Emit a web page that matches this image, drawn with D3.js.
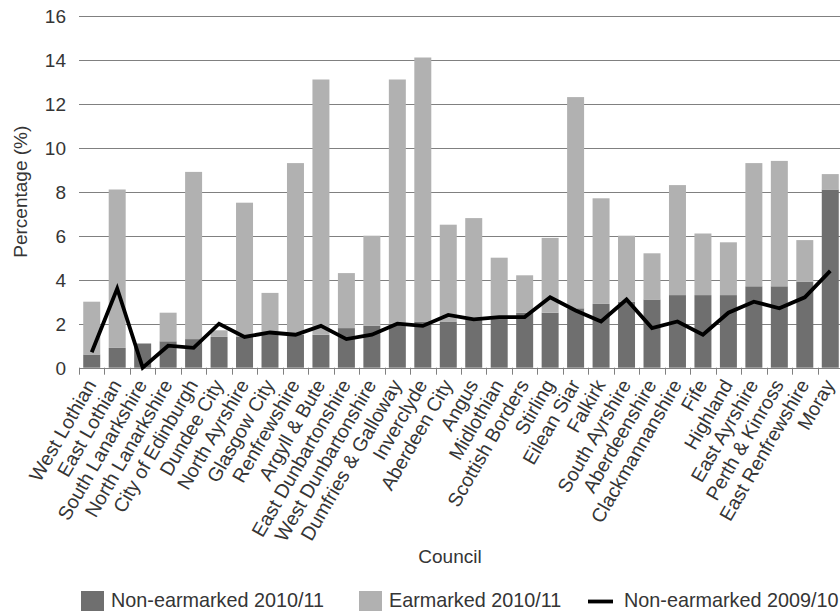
<!DOCTYPE html>
<html>
<head>
<meta charset="utf-8">
<script src="https://cdn.jsdelivr.net/npm/d3@7"></script>
<style>
  html, body { margin: 0; padding: 0; background: #fff; }
  svg { display: block; }
  text { font-family: "Liberation Sans", Arial, Helvetica, sans-serif; fill: #353535; }
</style>
</head>
<body>
<svg id="chart" width="840" height="611"></svg>
<script>
// Councils, ordered as shown along the x axis
const councils = [
  "West Lothian", "East Lothian", "South Lanarkshire", "North Lanarkshire",
  "City of Edinburgh", "Dundee City", "North Ayrshire", "Glasgow City",
  "Renfrewshire", "Argyll & Bute", "East Dunbartonshire", "West Dunbartonshire",
  "Dumfries & Galloway", "Inverclyde", "Aberdeen City", "Angus", "Midlothian",
  "Scottish Borders", "Stirling", "Eilean Siar", "Falkirk", "South Ayrshire",
  "Aberdeenshire", "Clackmannanshire", "Fife", "Highland", "East Ayrshire",
  "Perth & Kinross", "East Renfrewshire", "Moray"
];

// Reserves as a percentage of net revenue (%)
const nonEarmarked1011 = [
  0.6, 0.9, 1.1, 1.2, 1.3, 1.4, 1.4, 1.6, 1.5, 1.5, 1.8, 1.9, 2.0, 2.1, 2.1,
  2.2, 2.3, 2.5, 2.5, 2.7, 2.9, 3.0, 3.1, 3.3, 3.3, 3.3, 3.7, 3.7, 3.9, 8.1
];
const earmarked1011 = [
  2.4, 7.2, 0.0, 1.3, 7.6, 0.3, 6.1, 1.8, 7.8, 11.6, 2.5, 4.1, 11.1, 12.0, 4.4,
  4.6, 2.7, 1.7, 3.4, 9.6, 4.8, 3.0, 2.1, 5.0, 2.8, 2.4, 5.6, 5.7, 1.9, 0.7
];
const nonEarmarked0910 = [
  0.7, 3.6, 0.0, 1.0, 0.9, 2.0, 1.4, 1.6, 1.5, 1.9, 1.3, 1.5, 2.0, 1.9, 2.4,
  2.2, 2.3, 2.3, 3.2, 2.6, 2.1, 3.1, 1.8, 2.1, 1.5, 2.5, 3.0, 2.7, 3.2, 4.4
];

const yTicks = [0, 2, 4, 6, 8, 10, 12, 14, 16];

const legendItems = [
  { label: "Non-earmarked 2010/11", kind: "rect", color: "#6f6f6f" },
  { label: "Earmarked 2010/11", kind: "rect", color: "#b1b1b1" },
  { label: "Non-earmarked 2009/10", kind: "line", color: "#000000" }
];

const svg = d3.select("#chart");
const plot = { left: 79, right: 843, top: 15.7, bottom: 367.7 };

const x = d3.scaleBand()
  .domain(councils)
  .range([plot.left, plot.right])
  .paddingInner(0.333)
  .paddingOuter(0.1665);

const y = d3.scaleLinear()
  .domain([0, 16])
  .range([plot.bottom, plot.top]);

const rows = councils.map((c, i) => ({
  council: c,
  nonEarmarked: nonEarmarked1011[i],
  earmarked: earmarked1011[i],
  prior: nonEarmarked0910[i]
}));

// Horizontal gridlines
svg.append("g")
  .selectAll("line")
  .data(yTicks.filter(t => t > 0))
  .join("line")
  .attr("x1", plot.left)
  .attr("x2", 840)
  .attr("y1", d => Math.round(y(d)) + 0.5)
  .attr("y2", d => Math.round(y(d)) + 0.5)
  .attr("stroke", "#808080")
  .attr("stroke-width", 1);

// Y tick labels
svg.append("g")
  .selectAll("text")
  .data(yTicks)
  .join("text")
  .attr("x", 66)
  .attr("y", d => y(d))
  .attr("dy", "0.36em")
  .attr("text-anchor", "end")
  .style("font-size", "19px")
  .text(d => d);

// Stacked bars
const stack = d3.stack().keys(["nonEarmarked", "earmarked"])(rows);
const barColors = ["#6f6f6f", "#b1b1b1"];

svg.append("g")
  .selectAll("g")
  .data(stack)
  .join("g")
  .attr("fill", (d, i) => barColors[i])
  .selectAll("rect")
  .data(d => d)
  .join("rect")
  .attr("x", d => x(d.data.council))
  .attr("width", x.bandwidth())
  .attr("y", d => y(d[1]))
  .attr("height", d => Math.max(0, y(d[0]) - y(d[1])));

// X axis line and category boundary ticks
const step = x.step();
const boundaries = d3.range(councils.length + 1).map(i =>
  i < councils.length
    ? x(councils[i]) - step * x.paddingInner() / 2
    : x(councils[i - 1]) + x.bandwidth() + step * x.paddingInner() / 2
);

const axisG = svg.append("g");
axisG.append("line")
  .attr("x1", plot.left)
  .attr("x2", 840)
  .attr("y1", Math.round(y(0)) + 0.5)
  .attr("y2", Math.round(y(0)) + 0.5)
  .attr("stroke", "#808080");
axisG.selectAll("line.tick")
  .data(boundaries)
  .join("line")
  .attr("class", "tick")
  .attr("x1", d => Math.round(d) + 0.5)
  .attr("x2", d => Math.round(d) + 0.5)
  .attr("y1", y(0))
  .attr("y2", y(0) + 7)
  .attr("stroke", "#808080");

// Rotated council labels
axisG.selectAll("text")
  .data(councils)
  .join("text")
  .attr("text-anchor", "end")
  .attr("dy", "0.3em")
  .attr("transform", d => `translate(${x(d) + x.bandwidth() / 2},${y(0) + 14}) rotate(-60)`)
  .style("font-size", "19.5px")
  .text(d => d);

// 2009/10 non-earmarked line
const line = d3.line()
  .x(d => x(d.council) + x.bandwidth() / 2)
  .y(d => y(d.prior));

svg.append("path")
  .datum(rows)
  .attr("fill", "none")
  .attr("stroke", "#000")
  .attr("stroke-width", 3.8)
  .attr("d", line);

// Axis titles
svg.append("text")
  .attr("transform", `translate(27,${(plot.top + plot.bottom) / 2}) rotate(-90)`)
  .attr("text-anchor", "middle")
  .style("font-size", "19px")
  .text("Percentage (%)");

svg.append("text")
  .attr("x", 450)
  .attr("y", 563)
  .attr("text-anchor", "middle")
  .style("font-size", "19px")
  .text("Council");

// Legend
const legendX = [81, 359, 588];
const legend = svg.append("g");
legendItems.forEach((item, i) => {
  const g = legend.append("g").attr("transform", `translate(${legendX[i]},0)`);
  if (item.kind === "rect") {
    g.append("rect").attr("x", 0).attr("y", 591).attr("width", 23).attr("height", 23).attr("fill", item.color);
    g.append("text").attr("x", 30).attr("y", 607).style("font-size", "19.8px").text(item.label);
  } else {
    g.append("line").attr("x1", 0).attr("x2", 25).attr("y1", 601.5).attr("y2", 601.5)
      .attr("stroke", item.color).attr("stroke-width", 3.8);
    g.append("text").attr("x", 36).attr("y", 607).style("font-size", "19.8px").text(item.label);
  }
});
</script>
</body>
</html>
